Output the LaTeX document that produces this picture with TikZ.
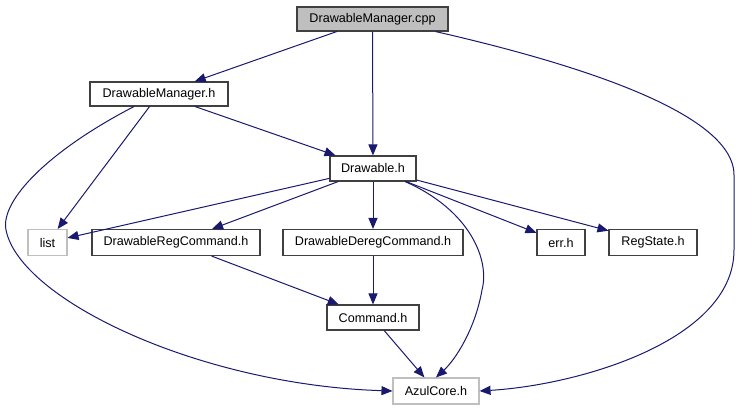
\documentclass[tikz,border=0pt]{standalone}
\usepackage{fontspec}
\setmainfont{Liberation Sans}
\usetikzlibrary{arrows.meta}
\definecolor{edgeblue}{HTML}{191970}
\definecolor{boxgray}{HTML}{BFBFBF}
\definecolor{boxline}{HTML}{404040}
\tikzset{
  filebox/.style={draw=boxline, line width=1.1pt, inner sep=0pt, minimum height=25pt, font=\fontsize{12.6}{14}\selectfont},
  extbox/.style={filebox, draw=boxgray},
  rootbox/.style={filebox, fill=boxgray},
  dep/.style={draw=edgeblue, line width=1pt, -{Triangle[length=11pt,width=9pt]}, fill=none},
}
\begin{document}
\begin{tikzpicture}[x=1pt,y=-1pt]
\useasboundingbox (0,0) rectangle (740,411);
\node[rootbox, minimum width=151pt, minimum height=24pt] (cpp) at (372.5,19) {DrawableManager.cpp};
\node[filebox, minimum width=138pt, minimum height=24pt] (dmh) at (159,94) {DrawableManager.h};
\node[filebox, minimum width=86pt] (dh) at (373,168.5) {Drawable.h};
\node[extbox, minimum width=39pt, minimum height=26pt] (list) at (47.5,242.5) {list};
\node[filebox, minimum width=168pt, minimum height=26pt] (reg) at (176,242.5) {DrawableRegCommand.h};
\node[filebox, minimum width=180pt, minimum height=26pt] (dereg) at (373,242.5) {DrawableDeregCommand.h};
\node[filebox, minimum width=48pt, minimum height=26pt] (err) at (561,242.5) {err.h};
\node[filebox, minimum width=88pt, minimum height=26pt] (rs) at (653,242.5) {RegState.h};
\node[filebox, minimum width=92pt] (cmd) at (373,317.5) {Command.h};
\node[extbox, minimum width=86pt, minimum height=26pt] (azul) at (436,391) {AzulCore.h};

\draw[dep] (cpp) -- (dmh);
\draw[dep] (cpp) -- (dh);
\draw[dep] ([xshift=-13pt]cpp.south east) .. controls (560,60) and (734,110) .. (734,175) -- (734,250) .. controls (734,340) and (580,385) .. (azul.east);
\draw[dep] (dmh) -- (dh);
\draw[dep] (dmh) -- (list);
\draw[dep] ([xshift=-25pt]dmh.south) .. controls (50,150) and (0,200) .. (6,230) .. controls (20,300) and (200,385) .. (azul.west);
\draw[dep] (dh) -- (list);
\draw[dep] (dh) -- (reg);
\draw[dep] (dh) -- (dereg);
\draw[dep] (dh) -- (err);
\draw[dep] (dh) -- (rs);
\draw[dep] ([xshift=32pt]dh.south) .. controls (470,210) and (490,260) .. (482,290) .. controls (475,330) and (455,360) .. (azul.north);
\draw[dep] (reg) -- (cmd);
\draw[dep] (dereg) -- (cmd);
\draw[dep] (cmd) -- (azul);
\end{tikzpicture}
\end{document}
